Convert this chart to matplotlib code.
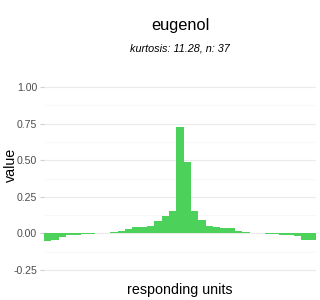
import numpy as np
import matplotlib
matplotlib.use("Agg")
import matplotlib.pyplot as plt
from matplotlib.ticker import MultipleLocator

# DATA
TITLE = "eugenol"
SUBTITLE = "kurtosis: 11.28, n: 37"
values = [-0.055, -0.048, -0.027, -0.014, -0.014, -0.007, -0.007, 0.0,
          0.005, 0.011, 0.018, 0.032, 0.041, 0.041, 0.052, 0.087, 0.121,
          0.155, 0.729, 0.49, 0.155, 0.093, 0.052, 0.046, 0.039, 0.039,
          0.018, 0.011, 0.005, 0.0, -0.002, -0.007, -0.014, -0.014, -0.02,
          -0.048, -0.048]
yticks = [-0.25, 0.0, 0.25, 0.5, 0.75, 1.0]

BAR_COLOR = "#4cd15a"
plt.rcParams['font.family'] = ['Liberation Sans', 'DejaVu Sans']

fig = plt.figure(figsize=(3.2, 3.0), dpi=100)
ax = fig.add_axes([0.1375, 0.07, 0.85, 0.67])

x = np.arange(len(values))
ax.bar(x, values, width=1.0, color=BAR_COLOR, linewidth=0, zorder=2)

ax.set_xlim(-0.5, len(values) - 0.5)
ax.set_ylim(-0.3125, 1.0625)
ax.set_yticks(yticks)
ax.set_yticklabels([f"{v:.2f}" for v in yticks])
ax.yaxis.set_minor_locator(MultipleLocator(0.125))
ax.set_xticks([])

ax.grid(axis="y", which="major", color="#ebebeb", linewidth=0.8, zorder=0)
ax.grid(axis="y", which="minor", color="#f5f5f5", linewidth=0.5, zorder=0)
ax.set_axisbelow(True)
for s in ax.spines.values():
    s.set_visible(False)
ax.tick_params(axis="y", which="major", length=3, color="#d0d0d0",
               labelsize=7.6, labelcolor="#4d4d4d", pad=2)
ax.tick_params(axis="y", which="minor", length=0)

ax.set_ylabel("value", fontsize=10.3)
ax.yaxis.set_label_coords(-0.097, 0.57)
ax.set_xlabel("responding units", fontsize=10.3)
ax.xaxis.set_label_coords(0.5, -0.02)

fig.text(0.5625, 0.915, TITLE, ha="center", va="center", fontsize=11.8)
fig.text(0.5625, 0.837, SUBTITLE, ha="center", va="center", fontsize=7.8,
         style="italic")

fig.savefig("out.png", dpi=100)
